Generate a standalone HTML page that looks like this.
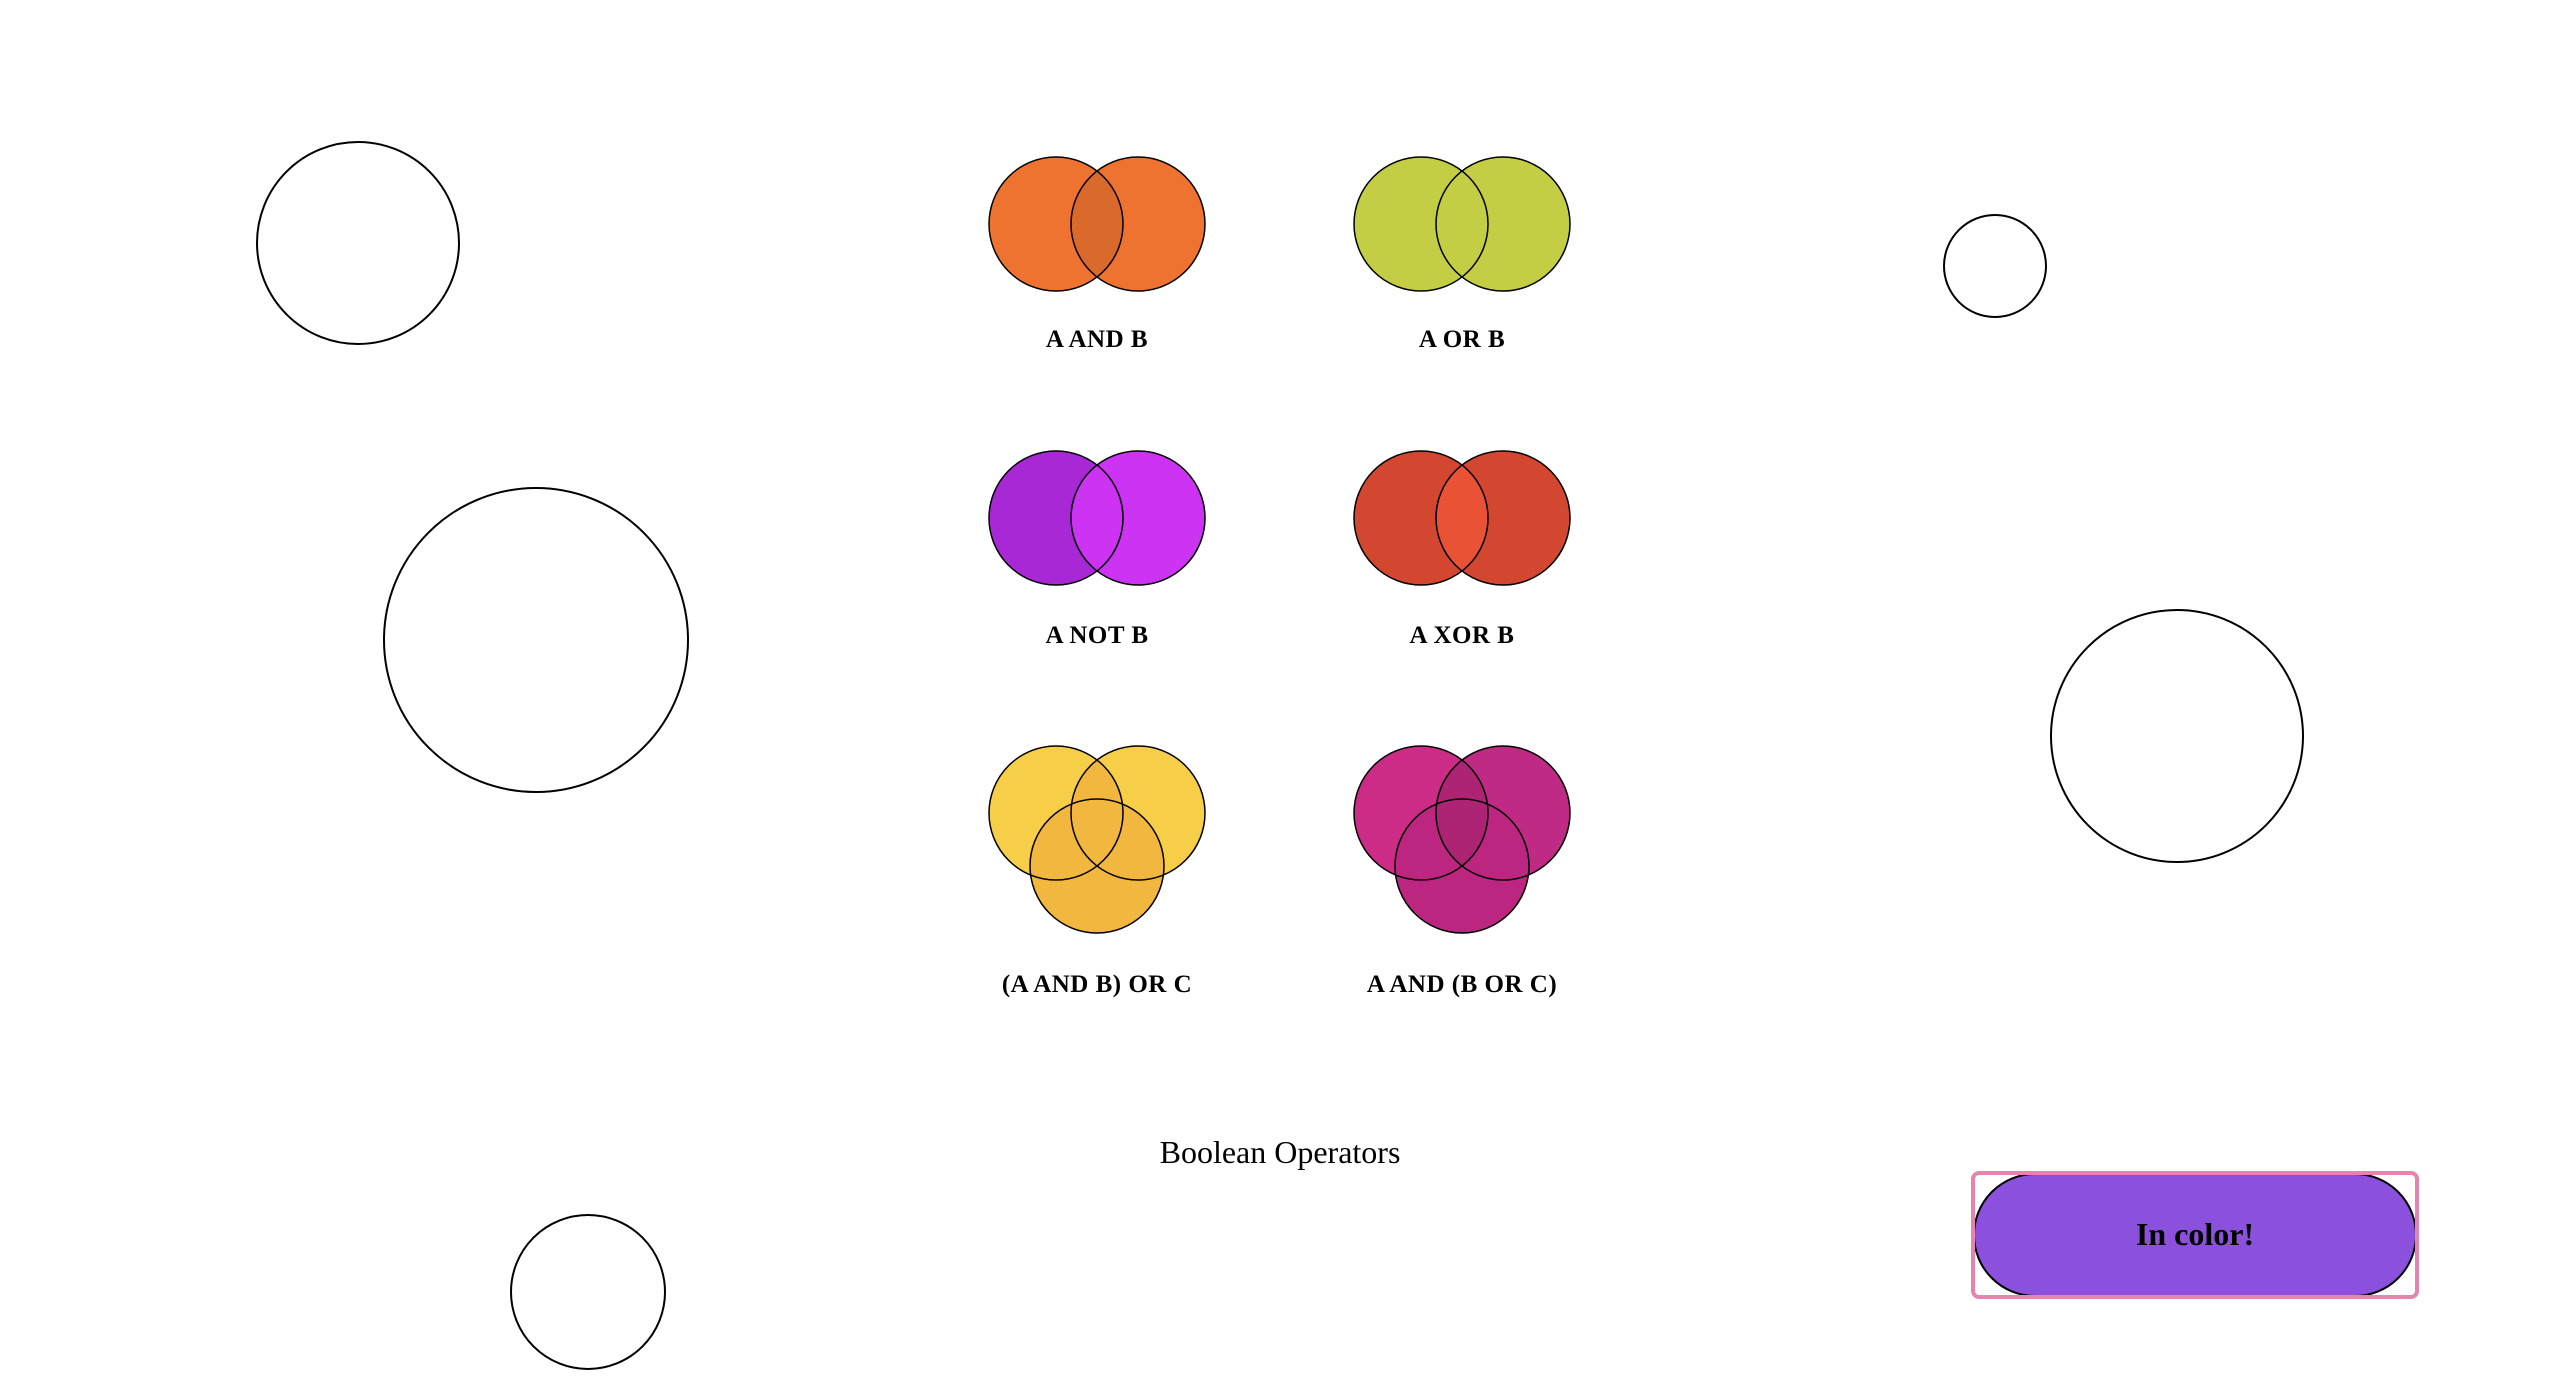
<!DOCTYPE html>
<html><head><meta charset="utf-8"><style>
html,body{margin:0;padding:0;background:#fff;width:2560px;height:1400px;overflow:hidden}
svg{display:block}
text{font-family:"Liberation Serif",serif}
</style></head><body>
<svg id="s" width="2560" height="1400" viewBox="0 0 2560 1400">
<g id="bg"></g><g id="venn"></g>
<text x="1280" y="1163" text-anchor="middle" font-size="32">Boolean Operators</text>
<g>
<rect x="1974" y="1174" width="442" height="122" rx="61" fill="#8B50DC" stroke="#000" stroke-width="2"/>
<rect x="1973" y="1173" width="444" height="124" rx="6" fill="none" stroke="#E584AD" stroke-width="4"/>
<text x="2195" y="1245" text-anchor="middle" font-size="32" font-weight="bold">In color!</text>
</g>
</svg>
<script>
const bgCx=[358,536,1995,2177,588];
const bgCy=[243,640,266,736,1292];
const bgR=[101,152,51,126,77];
const labels=["A AND B","A OR B","A NOT B","A XOR B","(A AND B) OR C","A AND (B OR C)"];
const groupCx=[1097,1462,1097,1462,1097,1462];
const groupCy=[224,224,518,518,813,813];
const circleColors=[["#EE7330","#EE7330"],["#C3CE44","#C3CE44"],["#A928D6","#CC33F2"],["#D34730","#D34730"],["#F7CE48","#F7CE48","#F2B73F"],["#CD2C86","#BF2A84","#BC2680"]];
const overlapColors=["#D96A2B","#C3CE44",null,"#EA5235","#F2B73F","#AE2474"];
const labelY=[338,338,634,634,983,983];
const NS="http://www.w3.org/2000/svg";
const R=67,OFF=41,DROP=53;
const bg=document.getElementById('bg'),vg=document.getElementById('venn');
function mk(t,a){const e=document.createElementNS(NS,t);for(const k in a)e.setAttribute(k,a[k]);return e;}
bgCx.forEach((cx,i)=>{const c=mk('circle',{cx:cx,cy:bgCy[i],r:bgR[i],fill:'none',stroke:'#000','stroke-width':2});


bg.appendChild(c);});
labels.forEach((lab,i)=>{
 const g=mk('g',{});
 
 
 const cx=groupCx[i],cy=groupCy[i],cols=circleColors[i];
 const pos=[[cx-OFF,cy],[cx+OFF,cy],[cx,cy+DROP]];
 const id='clip'+i;
 const defs=mk('defs',{});const cp=mk('clipPath',{id:id});
 cp.appendChild(mk('circle',{cx:pos[0][0],cy:pos[0][1],r:R}));defs.appendChild(cp);g.appendChild(defs);
 cols.forEach((col,j)=>{const c=mk('circle',{cx:pos[j][0],cy:pos[j][1],r:R,fill:col});
  
  
  g.appendChild(c);});
 if(overlapColors[i]){
  const o=mk('circle',{cx:pos[1][0],cy:pos[1][1],r:R,fill:overlapColors[i],'clip-path':'url(#'+id+')'});
  
  
  g.appendChild(o);
 }
 cols.forEach((col,j)=>{g.appendChild(mk('circle',{cx:pos[j][0],cy:pos[j][1],r:R,fill:'none',stroke:'#000','stroke-width':1.5}));});
 const t=mk('text',{x:cx,y:labelY[i]+9,'text-anchor':'middle','font-size':25,'font-weight':'bold','letter-spacing':'0.5'});
 
 
 t.textContent=lab;g.appendChild(t);
 vg.appendChild(g);
});
</script>
</body></html>
